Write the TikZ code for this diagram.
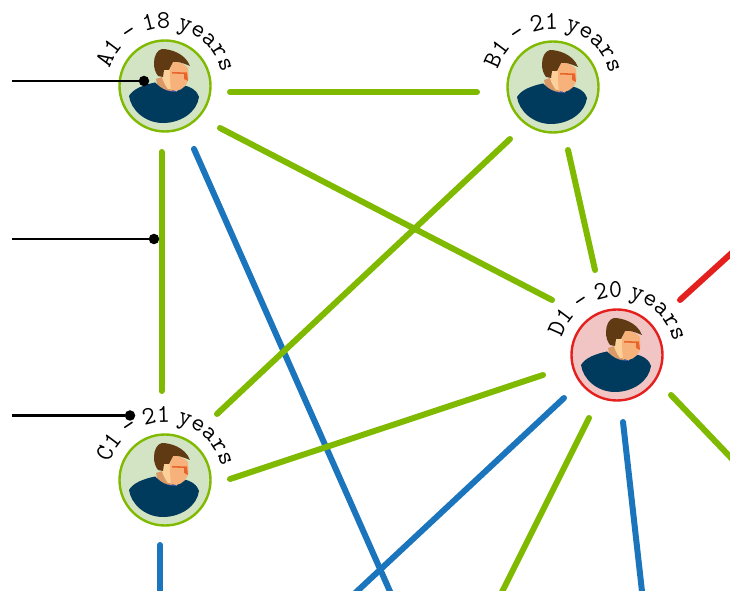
\documentclass[tikz,border=0pt]{standalone}
\usepackage{fontspec}
\usetikzlibrary{calc,decorations.text}
\newfontfamily\lblface[WordSpace=0.5]{Latin Modern Mono}
\definecolor{gline}{HTML}{7FBA00}
\definecolor{bline}{HTML}{1B75BC}
\definecolor{rline}{HTML}{E4201F}
\definecolor{gfill}{HTML}{D3E4C4}
\definecolor{rfill}{HTML}{F2C5C5}
\definecolor{body}{HTML}{003A5D}
\definecolor{hair}{HTML}{5F3A12}
\definecolor{skin}{HTML}{F7B27C}
\definecolor{skinl}{HTML}{FDD09A}
\definecolor{neck}{HTML}{D99A68}
\definecolor{collar}{HTML}{3A4F9C}
\definecolor{nose}{HTML}{E8642A}
\newcommand{\lblfont}{\lblface\fontsize{25.5}{26}\selectfont}
\tikzset{
  x=1pt,y=1pt,
  link/.style={line width=6pt,line cap=round},
  green link/.style={link,draw=gline},
  blue link/.style={link,draw=bline},
  red link/.style={link,draw=rline},
  pointer/.style={line width=2.2pt,draw=black},
  pdot/.style={circle,fill=black,inner sep=0pt,minimum size=10.5pt},
  gperson/.style={circle,draw=gline,fill=gfill,line width=2.4pt,minimum size=91pt,inner sep=0pt},
  rperson/.style={circle,draw=rline,fill=rfill,line width=2.4pt,minimum size=91pt,inner sep=0pt},
  person/.pic={
    \begin{scope}[yscale=-1]
      \fill[collar] (-10,-2) -- (-5,5) -- (12,7) -- (6,-3) -- cycle;
      \fill[body] (-10,-3.5) .. controls (-4,3) and (6,7) .. (11,6) -- (18,-0.5)
        .. controls (26,0) and (33,6) .. (34,11)
        .. controls (32,26) and (16,37) .. (-2,37)
        .. controls (-20,37) and (-34,24) .. (-36,10)
        .. controls (-32,3) and (-22,-1) .. (-10,-3.5) -- cycle;
      \fill[neck] (-9,-7) -- (-8,-2) .. controls (-4,2) and (1,5) .. (7,5) -- (5,1) -- (-3,-9) -- cycle;
      \fill[skinl] (-4,-17) -- (7,-20) -- (7,3) -- (3,3) .. controls (0,-1) and (-2,-5) .. (-3,-9) -- cycle;
      \fill[skin] (8,-25) .. controls (14,-24) and (20,-22) .. (23,-18) -- (23.5,-8)
        .. controls (23,-2) and (18,4) .. (11,5) -- (6,4) .. controls (5,-3) and (5,-10) .. (5,-16) -- cycle;
      \fill[nose] (7,-14) -- (22,-13.5) -- (23,-5) -- (19,-7) -- (19,-12) -- (7,-12.5) -- cycle;
      \fill[hair] (-11,-23) .. controls (-11,-30) and (-8,-36) .. (-3,-37)
        .. controls (5,-37) and (20,-33) .. (25,-20)
        .. controls (18,-23) and (12,-25) .. (8,-24)
        -- (4,-16) -- (-1,-16) -- (-2,-9) -- (-7,-10) .. controls (-10,-14) and (-11,-18) .. (-11,-23) -- cycle;
    \end{scope}
  }
}
\newcommand{\agelabel}[2]{%
  \path[decorate,decoration={text along path,text align=center,
    text={|\lblfont|#2}}]
    ([shift={(184:58)}]#1.center) arc (184:-8:58);}
\begin{document}
\begin{tikzpicture}
\useasboundingbox (0,0) rectangle (730,594);
\node[gperson] (A) at (165,508) {};
\node[gperson] (B) at (553,507) {};
\node[rperson] (D) at (617,239) {};
\node[gperson] (C) at (165,114) {};
\coordinate (redout) at (735,344);
\coordinate (gout) at (735,132);
\coordinate (gbot) at (500,-2);
\coordinate (bbotD) at (642.5,-2);
\coordinate (bbotD2) at (352,-2);
\coordinate (bbotA) at (392,-2);
\coordinate (bbotC) at (160,-2);
\coordinate (la) at (12,513);
\coordinate (lb) at (12,355);
\coordinate (lc) at (12,178.5);
\coordinate (ma) at (144,513);
\coordinate (mb) at (154,355);
\coordinate (mc) at (130,178.5);
\begin{scope}
\clip (0,4) rectangle (730,594);
\draw[green link] ($(A)+(65,-6)$) -- ($(B)+(-76,-5)$);
\draw[green link] ($(A)+(55,-42)$) -- ($(D)+(-65,55)$);
\draw[green link] ($(A)+(-3.5,-66)$) -- ($(C)+(-3.5,89)$);
\draw[blue link] ($(A)+(29,-63)$) -- (bbotA);
\draw[green link] ($(B)+(-43,-52)$) -- ($(C)+(52,66)$);
\draw[green link] ($(B)+(15,-63)$) -- ($(D)+(-22,85)$);
\draw[green link] ($(D)+(-74,-20)$) -- ($(C)+(65,1)$);
\draw[blue link] ($(D)+(-53,-43)$) -- (bbotD2);
\draw[green link] ($(D)+(-28,-63)$) -- (gbot);
\draw[blue link] ($(D)+(6,-67)$) -- (bbotD);
\draw[green link] ($(D)+(54,-40)$) -- (gout);
\draw[red link] ($(D)+(63,55)$) -- (redout);
\draw[blue link] ($(C)+(-5,-65)$) -- (bbotC);
\end{scope}
\foreach \n in {A,B,C,D} {
  \pic at (\n) {person};
}
\agelabel{A}{A1 – 18 years}
\agelabel{B}{B1 – 21 years}
\agelabel{C}{C1 – 21 years}
\agelabel{D}{D1 – 20 years}
\node[pdot] (da) at (ma) {};
\node[pdot] (db) at (mb) {};
\node[pdot] (dc) at (mc) {};
\draw[pointer] (la) -- (da);
\draw[pointer] (lb) -- (db);
\draw[pointer] (lc) -- (dc);
\end{tikzpicture}
\end{document}
